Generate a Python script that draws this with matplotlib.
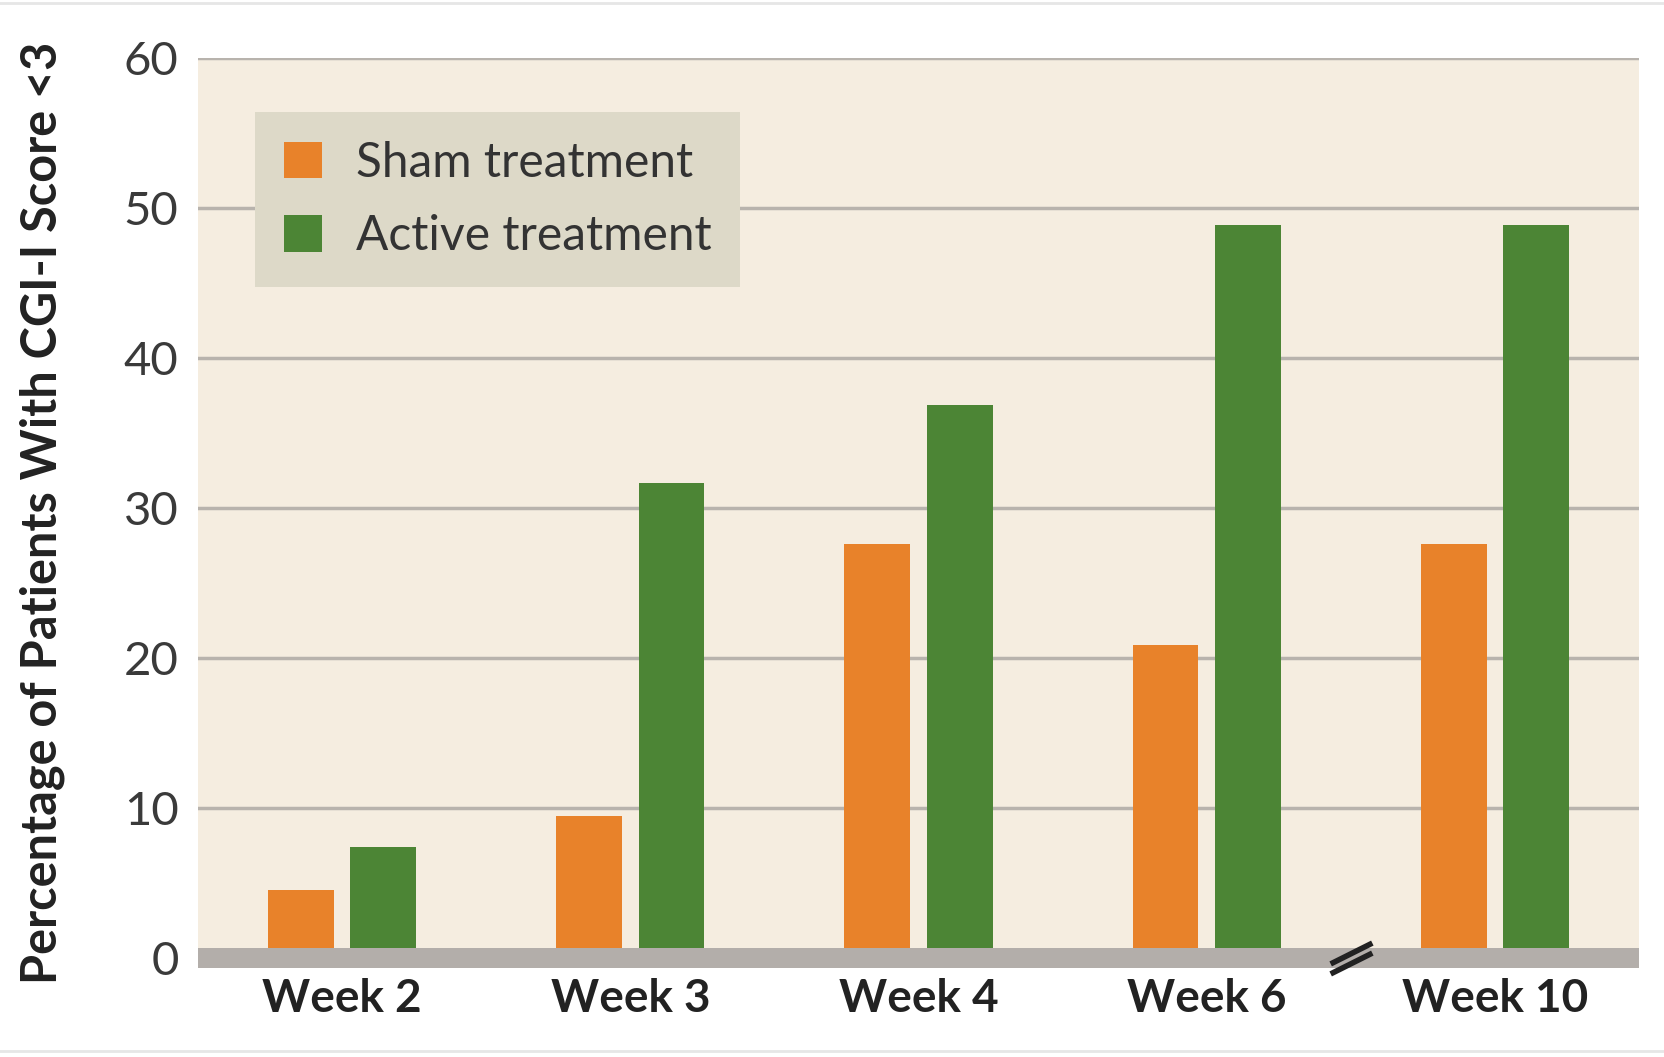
import matplotlib
matplotlib.use("Agg")
import matplotlib.pyplot as plt
import matplotlib.transforms as mtransforms
from matplotlib.lines import Line2D
import numpy as np

# data
weeks = ["Week 2", "Week 3", "Week 4", "Week 6", "Week 10"]
sham = [4.5, 9.5, 27.6, 20.9, 27.6]
active = [7.4, 31.7, 36.9, 48.9, 48.9]
series_names = ["Sham treatment", "Active treatment"]
y_ticks = [0, 10, 20, 30, 40, 50, 60]

orange = "#E8822A"
green = "#4C8535"
bg = "#F5EDE0"
grid_col = "#B8B3AD"
band_col = "#B3AEAA"
legend_bg = "#DDD9C8"

plt.rcParams["font.family"] = ["Lato", "DejaVu Sans"]

fig = plt.figure(figsize=(16.65, 10.57), dpi=100)
ax = fig.add_axes([0.1189, 0.0842, 0.8655, 0.8609])
ax.set_facecolor(bg)

x = np.arange(len(weeks))
w = 0.228
off = 0.143
ax.bar(x - off, sham, w, color=orange, label=series_names[0], zorder=2)
ax.bar(x + off, active, w, color=green, label=series_names[1], zorder=2)

# gridlines
for t in y_ticks[1:]:
    ax.axhline(t, color=grid_col, lw=2.5, zorder=1)
# thick baseline band
ax.axhspan(-0.667, 0.667, color=band_col, lw=0, zorder=3)

ax.set_xlim(-0.5, 4.5)
ax.set_ylim(-0.667, 60)
ax.set_yticks(y_ticks)
ax.set_yticklabels([str(t) for t in y_ticks], fontsize=34, color="#3a3a3a")
ax.set_xticks(x)
ax.set_xticklabels(weeks, fontsize=33, fontweight="bold", color="#222222")
ax.tick_params(axis="y", length=0, pad=14)
ax.tick_params(axis="x", length=0, pad=7)
for s in ax.spines.values():
    s.set_visible(False)

ax.set_ylabel("Percentage of Patients With CGI-I Score <3", fontsize=35,
              fontweight="bold", color="#222222")
ax.yaxis.set_label_coords(-0.092, 0.5)

# axis break mark between week 6 and week 10
for dy in (-5, 5):
    tr = ax.transData + mtransforms.ScaledTranslation(0, dy / 100, fig.dpi_scale_trans)
    ax.plot([3.5], [0], marker=[(-1, -0.5), (1, 0.5)], markersize=30,
            mew=4, color="#222222", transform=tr, zorder=4, clip_on=False)

leg = ax.legend(loc="upper left", bbox_to_anchor=(0.0396, 0.9407),
                borderaxespad=0, fontsize=34.5, frameon=True, fancybox=False,
                handlelength=0.8, handleheight=0.8, handletextpad=0.7,
                labelspacing=0.62, borderpad=0.6, labelcolor="#333333")
leg.get_frame().set_facecolor(legend_bg)
leg.get_frame().set_edgecolor("none")
leg.get_frame().set_alpha(1)

# thin rules at top and bottom of the figure
fig.add_artist(Line2D([0, 1], [0.997, 0.997], color="#E6E6E6", lw=2))
fig.add_artist(Line2D([0, 1], [0.006, 0.006], color="#E6E6E6", lw=2))

fig.savefig("out.png", dpi=100, facecolor="white")
